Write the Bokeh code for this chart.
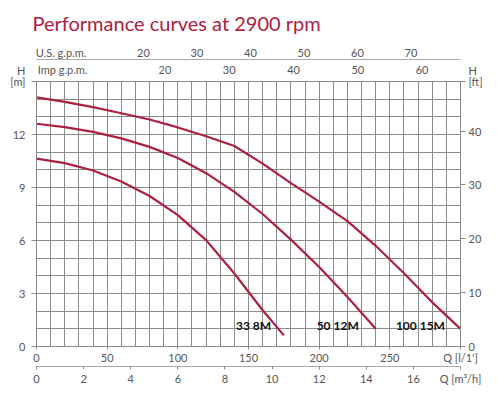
from bokeh.plotting import figure
from bokeh.models import (LinearAxis, Range1d, FixedTicker, ColumnDataSource)
from bokeh.core.properties import value
from bokeh.embed import file_html
from bokeh.resources import INLINE

# ---- data (Q in l/min, H in m) ----
q_33_8m = [0, 20, 40, 60, 80, 100, 120, 140, 160, 175]
h_33_8m = [10.63, 10.38, 9.96, 9.34, 8.52, 7.44, 6.02, 4.13, 2.05, 0.63]

q_50_12m = [0, 20, 40, 60, 80, 100, 120, 140, 160, 180, 200, 220, 240]
h_50_12m = [12.61, 12.42, 12.15, 11.78, 11.3, 10.67, 9.81, 8.75, 7.5, 6.05, 4.5, 2.8, 1.0]

q_100_15m = [0, 20, 40, 60, 80, 100, 120, 140, 160, 180, 200, 220, 240, 260, 280, 300]
h_100_15m = [14.1, 13.85, 13.55, 13.2, 12.85, 12.4, 11.9, 11.35, 10.35, 9.25, 8.2, 7.1, 5.7, 4.15, 2.5, 1.0]

curve_names = ["33 8M", "50 12M", "100 15M"]
label_q = [166, 228, 289]
label_h = [1.2, 1.2, 1.2]

q_ticks = [0, 50, 100, 150, 200, 250, 300]
m3h_ticks = [0, 2, 4, 6, 8, 10, 12, 14, 16, 18]
usgpm_ticks = [20, 30, 40, 50, 60, 70]
impgpm_ticks = [20, 30, 40, 50, 60]
h_m_ticks = [0, 3, 6, 9, 12, 15]
h_ft_ticks = [0, 10, 20, 30, 40]

Q_MAX = 300
H_MAX = 15
L_PER_US_GAL = 3.78541
L_PER_IMP_GAL = 4.54609
FT_PER_M = 3.28084
FT_MAX = round(H_MAX * FT_PER_M, 3)

RED = "#ad2040"
GRID = "#8c8c8c"
TXT = "#555555"
FONT = "Lato"

p = figure(width=497, height=394, x_range=Range1d(0, Q_MAX), y_range=Range1d(0, H_MAX),
           output_backend="svg", toolbar_location=None,
           title="Performance curves at 2900 rpm",
           min_border_left=36, min_border_right=37, min_border_top=0, min_border_bottom=48)
p.title.text_font = FONT
p.title.text_font_size = "20px"
p.title.text_font_style = "normal"
p.title.text_color = RED
p.title.align = "left"
p.title.offset = -4
p.title.standoff = 16

p.extra_x_ranges = {"m3h": Range1d(0, Q_MAX * 60 / 1000),
                    "us": Range1d(0, Q_MAX / L_PER_US_GAL),
                    "imp": Range1d(0, Q_MAX / L_PER_IMP_GAL)}
p.extra_y_ranges = {"ft": Range1d(0, FT_MAX)}

# grid
p.xgrid.ticker = FixedTicker(ticks=list(range(0, Q_MAX + 1, 10)))
p.ygrid.ticker = FixedTicker(ticks=list(range(0, H_MAX + 1, 1)))
for g in (p.xgrid, p.ygrid):
    g.grid_line_color = GRID
    g.grid_line_width = 1
p.outline_line_color = "#777777"
p.background_fill_color = "white"


def style(ax, tick_out=3, standoff=3):
    ax.major_label_text_font = FONT
    ax.major_label_text_font_size = "11px"
    ax.major_label_text_color = TXT
    ax.major_tick_line_color = "#888888"
    ax.major_tick_out = tick_out
    ax.major_tick_in = 0
    ax.minor_tick_line_color = None
    ax.major_label_standoff = standoff
    ax.axis_line_color = "#888888"


# bottom axes
xa = p.xaxis[0]
xa.ticker = FixedTicker(ticks=q_ticks)
xa.major_label_overrides = {300: "Q [l/1']"}
style(xa, tick_out=3, standoff=1)

ax_m3 = LinearAxis(x_range_name="m3h", ticker=FixedTicker(ticks=m3h_ticks),
                   major_label_overrides={18: "Q [m³/h]"})
style(ax_m3, tick_out=3, standoff=2)
ax_m3.axis_line_color = "#aaaaaa"
p.add_layout(ax_m3, "below")

# left / right axes (unit captions at the top end of each scale)
ya = p.yaxis[0]
ya.ticker = FixedTicker(ticks=h_m_ticks)
ya.major_label_overrides = {15: "H\n[m]\n "}
style(ya, tick_out=5, standoff=6)
ya.major_label_text_line_height = 0.85

ax_ft = LinearAxis(y_range_name="ft", ticker=FixedTicker(ticks=h_ft_ticks + [FT_MAX]),
                   major_label_overrides={FT_MAX: "H\n[ft]\n "})
style(ax_ft, tick_out=5, standoff=3)
ax_ft.major_label_text_line_height = 0.85
p.add_layout(ax_ft, "right")

# top axes (axis captions sit at the start of each scale)
IMP_CAPTION_AT = 4.05
US_CAPTION_AT = 4.58
ax_imp = LinearAxis(x_range_name="imp", ticker=FixedTicker(ticks=[IMP_CAPTION_AT] + impgpm_ticks),
                    major_label_overrides={IMP_CAPTION_AT: "Imp g.p.m."})
style(ax_imp, tick_out=0, standoff=6)
p.add_layout(ax_imp, "above")

ax_us = LinearAxis(x_range_name="us", ticker=FixedTicker(ticks=[US_CAPTION_AT] + usgpm_ticks),
                   major_label_overrides={US_CAPTION_AT: "U.S. g.p.m."})
style(ax_us, tick_out=0, standoff=1)
ax_us.axis_line_color = "#aaaaaa"
p.add_layout(ax_us, "above")

# curves
for q, h in ((q_33_8m, h_33_8m), (q_50_12m, h_50_12m), (q_100_15m, h_100_15m)):
    p.line(q, h, line_color=RED, line_width=2.2)

src = ColumnDataSource(dict(x=label_q, y=label_h, t=curve_names))
p.text(x="x", y="y", text="t", source=src, text_align="right", text_baseline="middle",
       text_font=value(FONT), text_font_size="12px", text_font_style="bold", text_color="#111111")

open("out.html", "w").write(file_html(p, INLINE))
